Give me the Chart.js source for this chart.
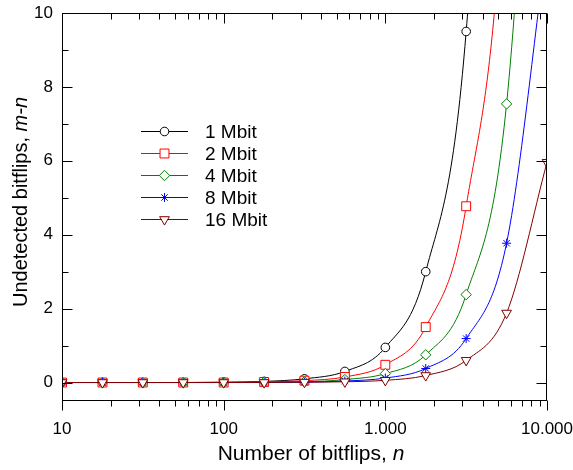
<!DOCTYPE html>
<html>
<head>
<meta charset="utf-8">
<script src="https://cdn.jsdelivr.net/npm/chart.js@4.4.0/dist/chart.umd.min.js"></script>
<style>
  html, body { margin: 0; padding: 0; background: #fff; }
</style>
</head>
<body>
<canvas id="myChart" width="573" height="470"></canvas>
<script>
// values
const nValues = [10, 17.8, 31.6, 56.2, 100, 178, 316, 562, 1000, 1778, 3162, 5623, 10000]
const mbit1 = [0, 0, 0, 0, 0.01, 0.03, 0.1, 0.3, 0.95, 3.0, 9.5, 30, 95]
const mbit2 = [0, 0, 0, 0, 0, 0.015, 0.05, 0.15, 0.48, 1.5, 4.77, 15, 48]
const mbit4 = [0, 0, 0, 0, 0, 0.01, 0.02, 0.08, 0.24, 0.75, 2.38, 7.54, 24]
const mbit8 = [0, 0, 0, 0, 0, 0, 0.01, 0.04, 0.12, 0.38, 1.19, 3.77, 11.9]
const mbit16 = [0, 0, 0, 0, 0, 0, 0.01, 0.02, 0.06, 0.19, 0.6, 1.88, 5.96]

const seriesNames = ['1 Mbit', '2 Mbit', '4 Mbit', '8 Mbit', '16 Mbit']
const xTickValues = [10, 100, 1000, 10000]
const xTickLabels = ['10', '100', '1.000', '10.000']
const yTickValues = [0, 2, 4, 6, 8, 10]

const FONT = 'Arial, "Liberation Sans", sans-serif'

const styles = [
    { color: '#000000', pointStyle: 'circle', radius: 4.3, rotation: 0 },
    { color: '#ff0000', pointStyle: 'rect', radius: 6.3, rotation: 0 },
    { color: '#008000', pointStyle: 'rectRot', radius: 5.2, rotation: 0 },
    { color: '#0000ff', pointStyle: 'star', radius: 4.5, rotation: 0 },
    { color: '#800000', pointStyle: 'triangle', radius: 5.6, rotation: 180 },
]

const allSeries = [mbit1, mbit2, mbit4, mbit8, mbit16]

const datasets = allSeries.map((vals, i) => ({
    label: seriesNames[i],
    data: vals.map((v, j) => ({ x: nValues[j], y: v })),
    borderColor: styles[i].color,
    borderWidth: 1,
    pointStyle: styles[i].pointStyle,
    pointRadius: styles[i].radius,
    pointRotation: styles[i].rotation,
    pointBorderColor: styles[i].color,
    pointBackgroundColor: '#ffffff',
    pointBorderWidth: 1,
    cubicInterpolationMode: 'monotone',
    clip: 0,
    order: 5 - i,
}))

function line(ctx, x1, y1, x2, y2) {
    ctx.beginPath()
    ctx.moveTo(x1, y1)
    ctx.lineTo(x2, y2)
    ctx.stroke()
}

function noPad(s) {
    s.paddingLeft = 0
    s.paddingRight = 0
    s.paddingTop = 0
    s.paddingBottom = 0
}

const framePlugin = {
    id: 'frame',
    afterDraw(chart) {
        const { ctx, chartArea: a, scales: { x, y } } = chart
        ctx.save()
        ctx.strokeStyle = '#000'
        ctx.lineWidth = 1
        const L = Math.round(a.left) + 0.5, R = Math.round(a.right) - 0.5
        const T = Math.round(a.top) + 0.5, B = Math.round(a.bottom) - 0.5
        ctx.strokeRect(L, T, R - L, B - T)

        // x ticks: outward at the bottom, inward at the top
        for (let dec = 10; dec <= 10000; dec *= 10) {
            for (let k = 1; k < 10; k++) {
                const v = dec * k
                if (v > 10000) break
                const px = Math.round(x.getPixelForValue(v)) + 0.5
                const len = k == 1 ? 10 : 6
                line(ctx, px, B, px, B + len)
                line(ctx, px, T, px, T + len)
            }
        }
        // y ticks: inward on both sides
        for (let v = 0; v <= 10; v++) {
            const py = Math.round(y.getPixelForValue(v)) + 0.5
            const len = v % 2 == 0 ? 10 : 6
            line(ctx, L, py, L + len, py)
            line(ctx, R, py, R - len, py)
        }

        // axis titles
        ctx.fillStyle = '#000'
        ctx.textBaseline = 'alphabetic'
        ctx.textAlign = 'left'

        let fn = '21px ' + FONT, fi = 'italic 21px ' + FONT
        ctx.font = fn
        const xa = 'Number of bitflips, '
        const wa = ctx.measureText(xa).width
        ctx.font = fi
        const wb = ctx.measureText('n').width
        let sx = 311 - (wa + wb) / 2
        ctx.font = fn
        ctx.fillText(xa, sx, 460)
        ctx.font = fi
        ctx.fillText('n', sx + wa, 460)

        fn = '20px ' + FONT
        fi = 'italic 20px ' + FONT
        ctx.save()
        ctx.translate(27, 202)
        ctx.rotate(-Math.PI / 2)
        ctx.font = fn
        const ya = 'Undetected bitflips, '
        const wya = ctx.measureText(ya).width
        ctx.font = fi
        const wyb = ctx.measureText('m-n').width
        sx = -(wya + wyb) / 2
        ctx.font = fn
        ctx.fillText(ya, sx, 0)
        ctx.font = fi
        ctx.fillText('m-n', sx + wya, 0)
        ctx.restore()

        // legend
        ctx.font = '19px ' + FONT
        ctx.textBaseline = 'middle'
        seriesNames.forEach((name, i) => {
            const ly = 131.5 + i * 22
            const st = styles[i]
            ctx.strokeStyle = st.color
            ctx.lineWidth = 1
            line(ctx, 141, ly, 188, ly)
            ctx.fillStyle = '#ffffff'
            Chart.helpers.drawPoint(ctx, {
                pointStyle: st.pointStyle, radius: st.radius,
                rotation: st.rotation, borderWidth: 1
            }, 164.5, ly)
            ctx.fillStyle = '#000'
            ctx.fillText(name, 205, ly + 1)
        })
        ctx.restore()
    }
}

new Chart(document.getElementById('myChart'), {
    type: 'line',
    data: { datasets },
    plugins: [framePlugin],
    options: {
        responsive: false,
        animation: false,
        events: [],
        layout: { padding: { top: 13, right: 26, left: 0, bottom: 0 } },
        plugins: { legend: { display: false }, tooltip: { enabled: false } },
        scales: {
            x: {
                type: 'logarithmic',
                min: 10,
                max: 10000,
                afterBuildTicks: s => { s.ticks = xTickValues.map(v => ({ value: v })) },
                afterFit: s => { s.height = 69; noPad(s) },
                grid: { display: false, drawTicks: false },
                border: { display: false },
                ticks: {
                    autoSkip: false, maxRotation: 0, padding: 18, color: '#000',
                    font: { family: FONT, size: 17 },
                    callback: (v, i) => xTickLabels[i]
                }
            },
            y: {
                min: -0.5,
                max: 10,
                afterBuildTicks: s => { s.ticks = yTickValues.map(v => ({ value: v })) },
                afterFit: s => { s.width = 62; noPad(s) },
                grid: { display: false, drawTicks: false },
                border: { display: false },
                ticks: {
                    padding: 9, color: '#000',
                    font: { family: FONT, size: 17 },
                    callback: v => String(v)
                }
            }
        }
    }
})
</script>
</body>
</html>
